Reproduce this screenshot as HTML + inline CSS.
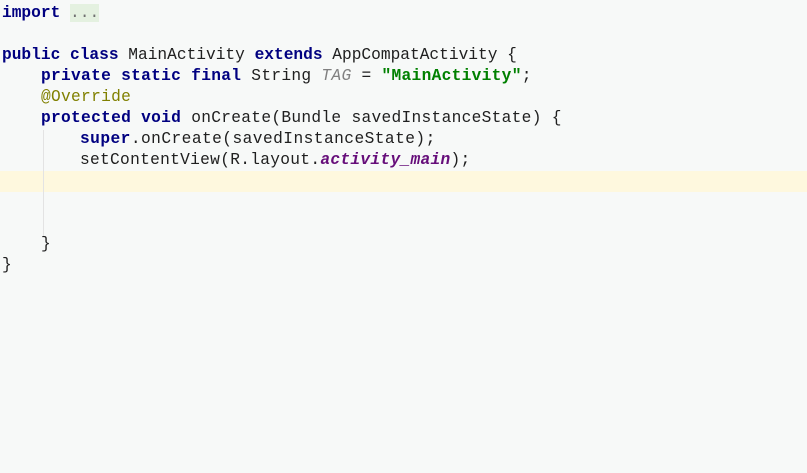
<!DOCTYPE html>
<html><head><style>
body{margin:0;width:807px;height:473px;background:#f7f9f8;overflow:hidden;position:relative}
.l{position:absolute;left:2px;height:21px;line-height:21px;font-family:"Liberation Mono",monospace;font-size:16.2px;white-space:pre;color:#202020}
.w{letter-spacing:0.3px}
.k{color:#000080;font-weight:bold}
.s{color:#008000;font-weight:bold}
.a{color:#808000}
.i{color:#808080;font-style:italic}
.p{color:#660e7a;font-weight:bold;font-style:italic}
.hl{position:absolute;left:0;width:807px;top:171px;height:21px;background:#fef8de}
.g{position:absolute;left:43px;top:130px;width:1px;height:106px;background:#e3e3e3}
.f{background:#e4f1e0;color:#707070}
</style></head><body>
<div class="hl"></div>
<div class="g"></div>
<div class="l" style="top:3px"><span class="k">import</span> <span class="f">...</span></div>
<div class="l" style="top:45px"><span class="k">public class</span> MainActivity <span class="k">extends</span> AppCompatActivity {</div>
<div class="l w" style="top:66px;left:41px"><span class="k">private static final</span> String <span class="i">TAG</span> = <span class="s">"MainActivity"</span>;</div>
<div class="l w" style="top:87px;left:41px"><span class="a">@Override</span></div>
<div class="l w" style="top:108px;left:41px"><span class="k">protected void</span> onCreate(Bundle savedInstanceState) {</div>
<div class="l w" style="top:129px;left:80px;letter-spacing:0.45px"><span class="k">super</span>.onCreate(savedInstanceState);</div>
<div class="l w" style="top:150px;left:80px"><span class="k"></span>setContentView(R.layout.<span class="p">activity_main</span>);</div>
<div class="l" style="top:234px;left:41px">}</div>
<div class="l" style="top:255px">}</div>
</body></html>
